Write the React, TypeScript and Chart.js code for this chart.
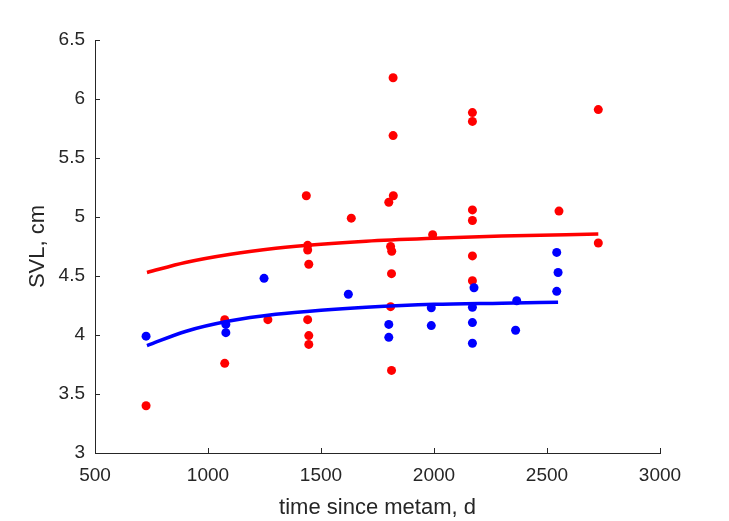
import React, { useEffect, useRef } from "react";
import { Chart, registerables } from "chart.js";

Chart.register(...registerables);

const redX = [726, 1074, 1074, 1265, 1435, 1441, 1441, 1446, 1441, 1446, 1446, 1634, 1800, 1819, 1819, 1820, 1808, 1813, 1812, 1808, 1812, 1994, 2170, 2170, 2170, 2170, 2170, 2170, 2553, 2727, 2727];
const redY = [3.40, 4.13, 3.76, 4.13, 5.18, 4.76, 4.72, 4.60, 4.13, 3.995, 3.92, 4.99, 5.125, 6.18, 5.69, 5.18, 4.75, 4.71, 4.52, 4.24, 3.70, 4.85, 5.885, 5.81, 5.06, 4.97, 4.67, 4.46, 5.05, 5.91, 4.78];

const blueX = [726, 1079, 1079, 1248, 1621, 1800, 1800, 1988, 1988, 2177, 2170, 2170, 2170, 2366, 2361, 2543, 2549, 2543];
const blueY = [3.99, 4.09, 4.02, 4.48, 4.345, 4.09, 3.98, 4.23, 4.08, 4.40, 4.235, 4.105, 3.93, 4.29, 4.04, 4.70, 4.53, 4.37];

const redFitX = [730, 900, 1100, 1300, 1500, 1700, 2000, 2300, 2727];
const redFitY = [4.53, 4.615, 4.685, 4.735, 4.77, 4.795, 4.82, 4.84, 4.855];

const blueFitX = [730, 900, 1100, 1300, 1500, 1700, 2000, 2300, 2549];
const blueFitY = [3.91, 4.03, 4.12, 4.175, 4.21, 4.235, 4.26, 4.27, 4.278];

const xTicks = [500, 1000, 1500, 2000, 2500, 3000];
const yTicks = [3, 3.5, 4, 4.5, 5, 5.5, 6, 6.5];

const xTitle = "time since metam, d";
const yTitle = "SVL, cm";

const AXIS_COLOR = "#262626";
const FONT = "'Liberation Sans', Arial, Helvetica, sans-serif";

const zip = (xs: number[], ys: number[]) => xs.map((x, i) => ({ x, y: ys[i] }));

const innerTicks = {
  id: "innerTicks",
  afterDraw(chart: any) {
    const { ctx, scales } = chart;
    const x = scales.x;
    const y = scales.y;
    ctx.save();
    ctx.strokeStyle = AXIS_COLOR;
    ctx.lineWidth = 1;
    ctx.beginPath();
    xTicks.forEach((v) => {
      const px = Math.round(x.getPixelForValue(v)) + 0.5;
      ctx.moveTo(px, y.bottom);
      ctx.lineTo(px, y.bottom - 5);
    });
    yTicks.forEach((v) => {
      const py = Math.round(y.getPixelForValue(v)) + 0.5;
      ctx.moveTo(x.left, py);
      ctx.lineTo(x.left + 5, py);
    });
    ctx.stroke();
    ctx.restore();
  },
};

export default function App() {
  const ref = useRef<HTMLCanvasElement | null>(null);

  useEffect(() => {
    if (!ref.current) return;
    const chart = new Chart(ref.current, {
      type: "scatter",
      data: {
        datasets: [
          {
            type: "scatter",
            label: "red points",
            data: zip(redX, redY),
            backgroundColor: "#ff0000",
            borderWidth: 0,
            pointRadius: 4.5,
            order: 4,
          },
          {
            type: "line",
            label: "red fit",
            data: zip(redFitX, redFitY),
            borderColor: "#ff0000",
            borderWidth: 3.5,
            pointRadius: 0,
            fill: false,
            cubicInterpolationMode: "monotone",
            order: 3,
          },
          {
            type: "scatter",
            label: "blue points",
            data: zip(blueX, blueY),
            backgroundColor: "#0000ff",
            borderWidth: 0,
            pointRadius: 4.5,
            order: 2,
          },
          {
            type: "line",
            label: "blue fit",
            data: zip(blueFitX, blueFitY),
            borderColor: "#0000ff",
            borderWidth: 3.5,
            pointRadius: 0,
            fill: false,
            cubicInterpolationMode: "monotone",
            order: 1,
          },
        ],
      } as any,
      options: {
        responsive: false,
        animation: false,
        devicePixelRatio: 1,
        layout: { padding: { left: 0, top: 40, right: 69, bottom: 0 } },
        plugins: {
          legend: { display: false },
          tooltip: { enabled: false },
        },
        scales: {
          x: {
            type: "linear",
            min: 500,
            max: 3000,
            afterBuildTicks: (s: any) => {
              s.ticks = xTicks.map((v) => ({ value: v }));
            },
            afterFit: (s: any) => {
              s.height = 68;
            },
            grid: { display: true, drawOnChartArea: false, drawTicks: false },
            border: { display: true, color: AXIS_COLOR, width: 1 },
            ticks: {
              color: AXIS_COLOR,
              font: { family: FONT, size: 19 },
              padding: 11,
              maxRotation: 0,
              callback: (v: any) => String(v),
            },
            title: {
              display: true,
              text: xTitle,
              color: AXIS_COLOR,
              font: { family: FONT, size: 22 },
              padding: { top: 0, bottom: 0 },
            },
          },
          y: {
            type: "linear",
            min: 3,
            max: 6.5,
            afterBuildTicks: (s: any) => {
              s.ticks = yTicks.map((v) => ({ value: v }));
            },
            afterFit: (s: any) => {
              s.width = 95;
            },
            grid: { display: true, drawOnChartArea: false, drawTicks: false },
            border: { display: true, color: AXIS_COLOR, width: 1 },
            ticks: {
              color: AXIS_COLOR,
              font: { family: FONT, size: 19 },
              padding: 10,
              callback: (v: any) => String(v),
            },
            title: {
              display: true,
              text: yTitle,
              color: AXIS_COLOR,
              font: { family: FONT, size: 22 },
              padding: { top: 25, bottom: 0 },
            },
          },
        },
      } as any,
      plugins: [innerTicks],
    });
    return () => chart.destroy();
  }, []);

  return (
    <div style={{ position: "fixed", left: 0, top: 0, width: 729, height: 521, background: "#fff" }}>
      <canvas ref={ref} width={729} height={521} />
    </div>
  );
}
